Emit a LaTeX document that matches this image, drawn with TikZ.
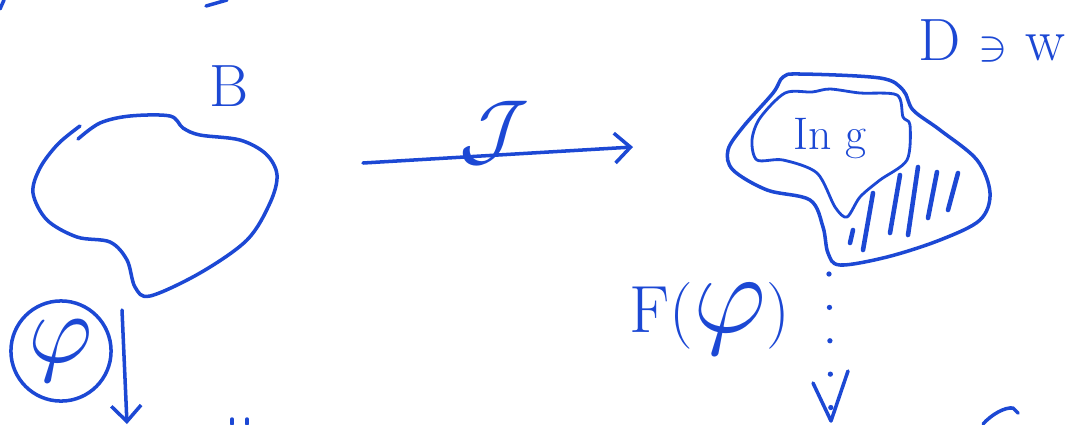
\documentclass[tikz,border=0pt]{standalone}
\usepackage{amsmath}
\usepackage{amssymb}
\usepackage{tikz}
\usetikzlibrary{positioning,arrows.meta,calc}

\definecolor{penblue}{RGB}{28,72,212}

\begin{document}
\begin{tikzpicture}[
  x=0.02cm, y=-0.02cm,
  >={Straight Barb[length=9pt, width=17pt, line width=2pt]},
  node distance=0.4cm and 0.6cm,
  every node/.style={text=penblue, align=center, inner sep=1pt},
  pen/.style={draw=penblue, line width=2pt, line cap=round, line join=round},
  thin pen/.style={pen, line width=1.6pt},
  big/.style={font=\fontsize{34}{34}\selectfont},
  mid/.style={font=\fontsize{26}{26}\selectfont},
  dots/.style={pen, line width=3pt, dash pattern=on 0pt off 19pt}
]
\useasboundingbox (0,0) rectangle (1072,424);

% region B
\draw[pen] plot[smooth, tension=0.55] coordinates {(78,139) (100,123) (130,116) (170,116) (183,128)
  (200,135) (240,140) (266,154) (277,175) (270,203) (247,240) (200,273) (150,296) (135,287)
  (127,260) (110,242) (77,237) (47,220) (33,193) (40,168) (58,144) (80,126)};
\node[big] (B) at (229,86) {B};

% region D with the image and the hatched part
\draw[pen] plot[smooth cycle, tension=0.55] coordinates {(783,77) (800,74) (880,78) (903,90) (913,110)
  (940,130) (977,160) (990,193) (980,220) (940,240) (887,257) (840,265) (828,253) (823,227)
  (810,200) (767,190) (733,170) (728,150) (743,127) (773,93)};
\draw[thin pen] plot[smooth cycle, tension=0.5] coordinates {(785,93) (812,92) (830,89) (860,93) (897,95)
  (903,117) (910,125) (907,160) (880,180) (860,197) (847,217) (835,207) (817,173) (783,160)
  (757,160) (752,140) (760,118)};
\node[mid] (Img) at (830,139) {In g};
\foreach \xa/\ya/\xb/\yb in {850/243/853/230, 863/250/873/193, 890/233/900/175,
                             908/235/918/167, 928/218/937/172, 948/210/958/173}
  \draw[pen, line width=2.6pt] (\xa,\ya) -- (\xb,\yb);

\node[big] (D) at (992,41) {D $\ni$ w};

% the map J
\coordinate (Js) at (363,163);
\coordinate (Je) at (633,147);
\draw[pen, ->] (Js) -- (Je);
\node (J) at (494,133) {\scalebox{4.6}{$\mathcal{J}$}};

% phi and its arrow
\node[pen, circle, minimum size=57pt, inner sep=0pt] (phi) at (61,351) {\scalebox{5.6}{$\varphi$}};
\coordinate (Ps) at (122,310);
\coordinate (Pe) at (127,424);
\draw[pen, ->] (Ps) -- (Pe);

% induced map F(phi)
\coordinate (Fs) at (829,274);
\coordinate (Fe) at (831,421);
\draw[dots] (Fs) -- (Fe);
\draw[pen] ($(Fe)+(-18,-38)$) -- (Fe) -- ($(Fe)+(17,-50)$);
\node[font=\fontsize{38}{38}\selectfont, left=0.75cm of $(Fs)!0.3!(Fe)$] (F) {F(\scalebox{2.6}{$\varphi$})};

% strokes cut off at the border
\draw[pen] (0,9) -- (4,0);
\draw[pen] (206,6) -- (227,0);
\draw[pen] (232,419) -- (232,424);
\draw[pen] (247,419) -- (247,424);
\draw[pen] (983,424) .. controls (992,414) and (1005,407) .. (1013,408) -- (1018,413);
\end{tikzpicture}
\end{document}
